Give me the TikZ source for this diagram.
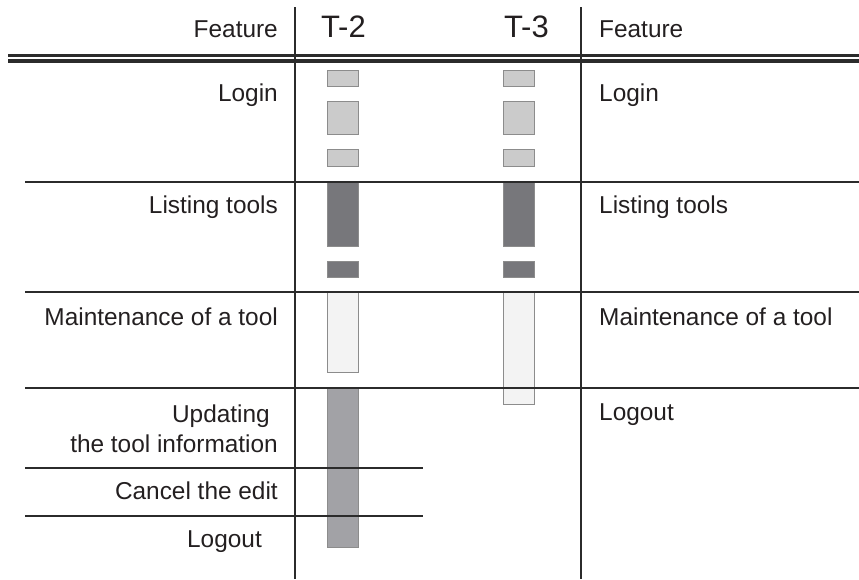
\documentclass[tikz,border=0pt]{standalone}
\usepackage{fontspec}
\setmainfont{Liberation Sans}
\definecolor{lightbar}{HTML}{CBCBCB}
\definecolor{darkbar}{HTML}{77777B}
\definecolor{palebar}{HTML}{F3F3F3}
\definecolor{midbar}{HTML}{A2A2A6}
\definecolor{rulec}{HTML}{2B2B2B}
\definecolor{barline}{HTML}{8C8C8C}
\definecolor{ink}{HTML}{231F20}
\begin{document}
\begin{tikzpicture}[x=1pt,y=-1pt,
  lbl/.style={font=\fontsize{24.4}{28}\selectfont, inner sep=0, text=ink},
  head/.style={font=\fontsize{31}{36}\selectfont, inner sep=0, text=ink},
  bar/.style={draw=barline, line width=1.2pt, inner sep=0, minimum width=31pt, anchor=north},
  hrule/.style={draw=rulec, line width=1.5pt},
  vrule/.style={draw=rulec, line width=2pt}]
\useasboundingbox (0,0) rectangle (859,579);

% bars T-2
\node[bar, fill=lightbar, minimum height=16pt] (a1) at (343,70) {};
\node[bar, fill=lightbar, minimum height=33pt] (a2) at (343,101) {};
\node[bar, fill=lightbar, minimum height=17pt] (a3) at (343,149) {};
\node[bar, fill=darkbar, minimum height=64pt] (a4) at (343,182) {};
\node[bar, fill=darkbar, minimum height=16pt] (a5) at (343,261) {};
\node[bar, fill=palebar, minimum height=80pt] (a6) at (343,292) {};
\node[bar, fill=midbar, minimum height=159pt] (a7) at (343,388) {};
% bars T-3
\node[bar, fill=lightbar, minimum height=16pt] (b1) at (519,70) {};
\node[bar, fill=lightbar, minimum height=33pt] (b2) at (519,101) {};
\node[bar, fill=lightbar, minimum height=17pt] (b3) at (519,149) {};
\node[bar, fill=darkbar, minimum height=64pt] (b4) at (519,182) {};
\node[bar, fill=darkbar, minimum height=16pt] (b5) at (519,261) {};
\node[bar, fill=palebar, minimum height=112pt] (b6) at (519,292) {};

% rules
\draw[draw=rulec, line width=3.6pt] (8,55.3) -- (859,55.3);
\draw[draw=rulec, line width=3.2pt] (8,61) -- (859,61);
\draw[hrule] (25,182) -- (859,182);
\draw[hrule] (25,292) -- (859,292);
\draw[hrule] (25,388) -- (859,388);
\draw[hrule] (25,468) -- (423,468);
\draw[hrule] (25,516) -- (423,516);
\draw[vrule] (295,7) -- (295,579);
\draw[vrule] (581,7) -- (581,579);

% headers
\node[lbl, anchor=base east] (fl) at (278,37) {Feature};
\node[lbl, anchor=base west] (fr) at (599,37) {Feature};
\node[head, anchor=base] (t2) at (343.4,37) {T-2};
\node[head, anchor=base] (t3) at (526.4,37) {T-3};

% left labels
\node[lbl, anchor=base east] (l1) at (278,101.7) {Login};
\node[lbl, anchor=base east] (l2) at (278,213) {Listing tools};
\node[lbl, anchor=base east] (l3) at (278,325) {Maintenance of a tool};
\node[lbl, anchor=base east] (l4a) at (270,422) {Updating};
\node[lbl, anchor=base east] (l4b) at (278,452) {the tool information};
\node[lbl, anchor=base east] (l5) at (278,499) {Cancel the edit};
\node[lbl, anchor=base east] (l6) at (262,547) {Logout};

% right labels
\node[lbl, anchor=base west] (r1) at (599,101.7) {Login};
\node[lbl, anchor=base west] (r2) at (599,213) {Listing tools};
\node[lbl, anchor=base west] (r3) at (599,325) {Maintenance of a tool};
\node[lbl, anchor=base west] (r4) at (599,420) {Logout};
\end{tikzpicture}
\end{document}
